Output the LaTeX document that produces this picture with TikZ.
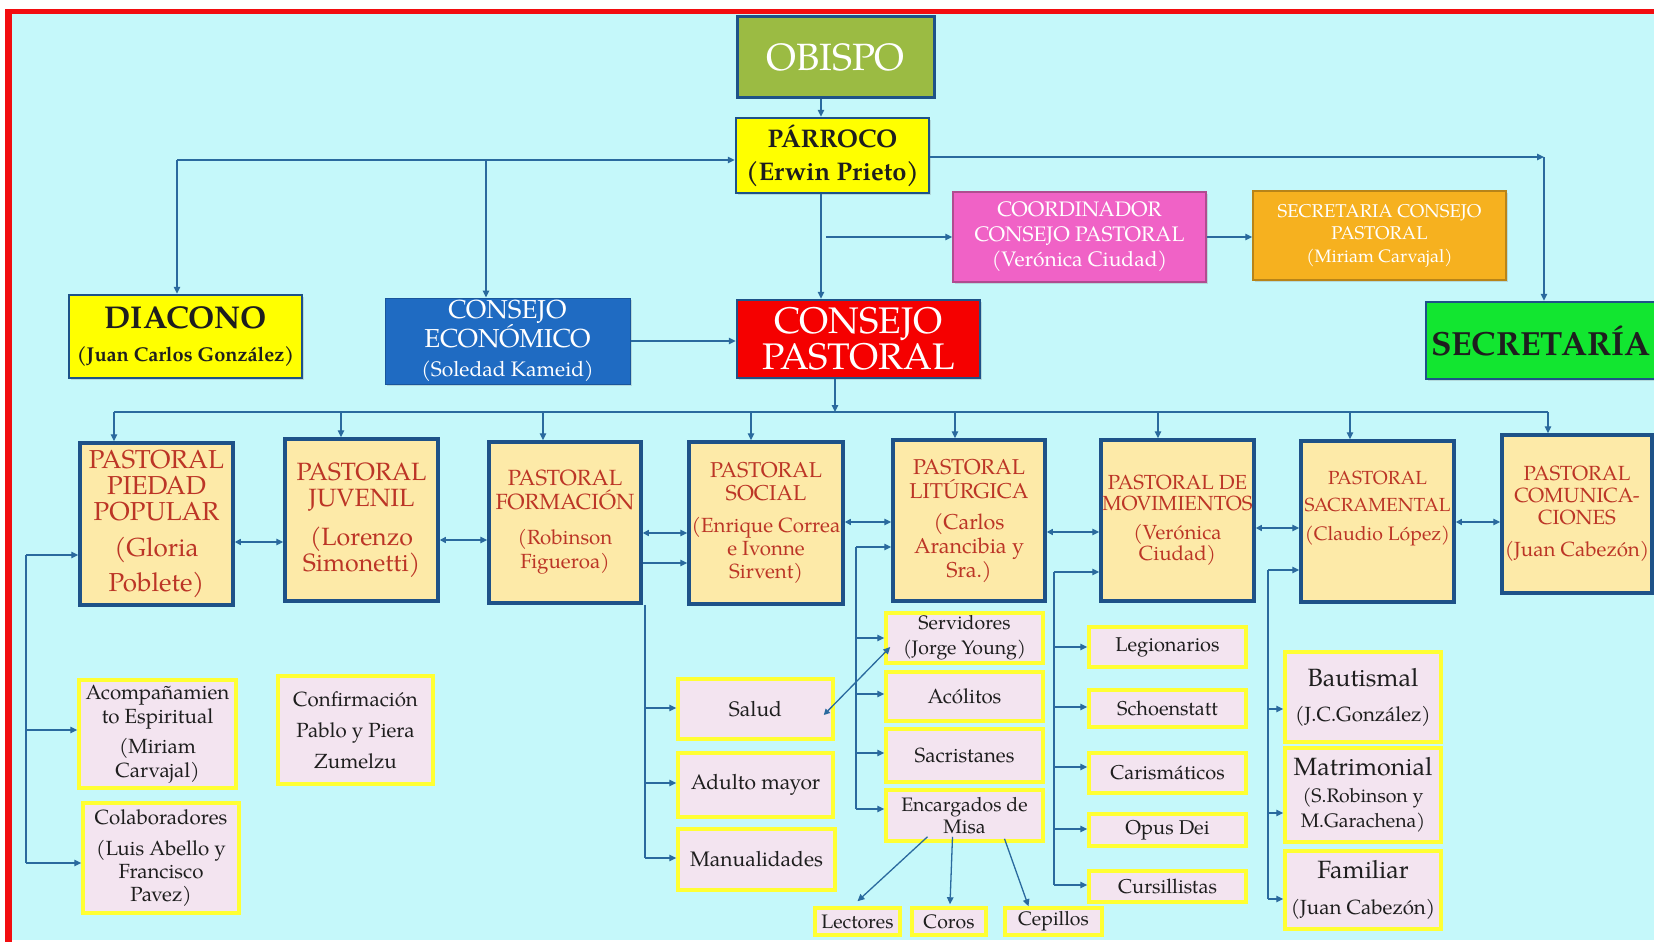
\documentclass[tikz,border=0pt]{standalone}
\usepackage{fontspec}
\setmainfont{texgyrepagella}[Extension=.otf,UprightFont=*-regular,BoldFont=*-bold,ItalicFont=*-italic,BoldItalicFont=*-bolditalic]
\usetikzlibrary{arrows.meta,shadows,calc}
\definecolor{bg}{HTML}{C5F8FA}
\definecolor{frame}{HTML}{F20D10}
\definecolor{lncol}{HTML}{2A6A9E}
\definecolor{boxblue}{HTML}{1E5288}
\definecolor{pasfill}{HTML}{FDEAA8}
\definecolor{pastext}{HTML}{BC3526}
\definecolor{subfill}{HTML}{F3E4F0}
\definecolor{subyel}{HTML}{FFFF33}
\definecolor{obfill}{HTML}{9BBB43}
\definecolor{yel}{HTML}{FFFF00}
\definecolor{pinkf}{HTML}{F062C6}
\definecolor{pinkb}{HTML}{B04C90}
\definecolor{orangef}{HTML}{F6B11F}
\definecolor{orangeb}{HTML}{B88418}
\definecolor{ceblue}{HTML}{1F6BC2}
\definecolor{cpred}{HTML}{F50000}
\definecolor{greenf}{HTML}{12E630}
\definecolor{subtext}{HTML}{1E1E1E}
\newcommand{\fs}[2]{\fontsize{#1}{#2}\selectfont}
\tikzset{
  topbox/.style={draw=boxblue, line width=2.5pt, rectangle, align=center, inner sep=0pt,
    drop shadow={opacity=0.25, shadow xshift=2pt, shadow yshift=-2pt}},
  pasbox/.style={draw=boxblue, fill=pasfill, line width=3.5pt, rectangle, align=center,
    inner sep=0pt, text=pastext},
  subbox/.style={draw=subyel, fill=subfill, line width=3.5pt, rectangle, align=center,
    inner sep=0pt, text=subtext,
    drop shadow={opacity=0.25, shadow xshift=2pt, shadow yshift=-2pt}},
  ln/.style={draw=lncol, line width=1.3pt},
  arr/.style={draw=lncol, line width=1.3pt, -{Triangle[length=7pt,width=6.5pt]}},
  darr/.style={draw=lncol, line width=1.3pt, {Triangle[length=6pt,width=6pt]}-{Triangle[length=7pt,width=6.5pt]}}
}
\begin{document}
\begin{tikzpicture}[x=1pt,y=-1pt]
\useasboundingbox (0,0) rectangle (1654,942);
\begin{scope}
\clip (0,0) rectangle (1654,942);
% background and frame
\fill[white] (0,0) rectangle (1654,942);
\fill[frame] (5,9) rectangle (12,942);
\fill[frame] (5,9) rectangle (1654,14);
\fill[bg] (12,14) rectangle (1654,940);

% top level
\node[topbox, fill=obfill, text=white, line width=3pt, minimum width=197pt, minimum height=80pt, font=\fs{38}{40}] (obispo) at (835.5,57) {OBISPO};
\node[topbox, fill=yel, text=subtext, minimum width=193pt, minimum height=75pt, font=\bfseries\fs{25.5}{33}] (parroco) at (832.5,155.5) {PÁRROCO\\(Erwin Prieto)};
\node[topbox, fill=pinkf, draw=pinkb, line width=1.5pt, text=white, minimum width=253pt, minimum height=90pt, font=\fs{21}{25}] (coord) at (1079.5,237) {COORDINADOR\\CONSEJO PASTORAL\\(Verónica Ciudad)};
\node[topbox, fill=orangef, draw=orangeb, line width=1.5pt, text=white, minimum width=253pt, minimum height=89pt, font=\fs{18.5}{22.5}] (seccons) at (1379.5,235.5) {SECRETARIA CONSEJO\\PASTORAL\\{\fs{18}{22.5}(Miriam Carvajal)}};
\node[topbox, fill=yel, text=subtext, minimum width=233pt, minimum height=83pt, font=\bfseries\fs{20}{33}] (diacono) at (185.5,336.5) {{\fs{31.5}{33}DIACONO}\\(Juan Carlos González)};
\node[topbox, fill=ceblue, draw=ceblue!80!black, line width=1pt, text=white, minimum width=245pt, minimum height=86pt, font=\fs{26}{29}] (ce) at (507.5,341) {CONSEJO\\ECONÓMICO\\{\fs{21}{29}(Soledad Kameid)}};
\node[topbox, fill=cpred, text=white, minimum width=243pt, minimum height=78pt, font=\fs{37}{36}] (cp) at (858.5,339) {CONSEJO\\PASTORAL};
\node[topbox, fill=greenf, text=subtext, minimum width=274pt, minimum height=77pt, text width=264pt, align=left, inner xsep=5pt, font=\bfseries\fs{33.5}{36}] (secr) at (1563,340.5) {SECRETARÍA};

% pastoral row
\node[pasbox, minimum width=153pt, minimum height=162pt, font=\fs{26}{26}] (p1) at (156.5,524) {PASTORAL\\PIEDAD\\POPULAR\\[10pt](Gloria\\[9pt]Poblete)};
\node[pasbox, minimum width=153pt, minimum height=162pt, font=\fs{25}{26}] (p2) at (361.5,520) {PASTORAL\\JUVENIL\\[13pt](Lorenzo\\Simonetti)};
\node[pasbox, minimum width=152pt, minimum height=161pt, font=\fs{22}{24}] (p3) at (565,522.5) {PASTORAL\\FORMACIÓN\\[11pt]{\fs{20.5}{23}(Robinson}\\{\fs{20.5}{23}Figueroa)}};
\node[pasbox, minimum width=154pt, minimum height=162pt, font=\fs{21.5}{23}] (p4) at (766,523) {PASTORAL\\SOCIAL\\[9pt]{\fs{20.5}{23}(Enrique Correa}\\{\fs{20.5}{23}e Ivonne}\\{\fs{20.5}{23}Sirvent)}};
\node[pasbox, minimum width=152pt, minimum height=161pt, font=\fs{21.5}{24}] (p5) at (969,520.5) {PASTORAL\\LITÚRGICA\\[7pt](Carlos\\Arancibia y\\Sra.)};
\node[pasbox, minimum width=153pt, minimum height=161pt, font=\fs{20.4}{21}] (p6) at (1177.5,520.5) {PASTORAL DE\\MOVIMIENTOS\\[8pt](Verónica\\Ciudad)};
\node[pasbox, minimum width=153pt, minimum height=161pt, font=\fs{19}{27}] (p7) at (1377.5,521.5) {PASTORAL\\SACRAMENTAL\\[2pt]{\fs{19.5}{27}(Claudio López)}\\[4pt]\mbox{}};
\node[pasbox, minimum width=150pt, minimum height=158pt, font=\fs{20.5}{22}] (p8) at (1577,514) {PASTORAL\\COMUNICA-\\CIONES\\[10pt](Juan Cabezón)};

% sub boxes
\node[subbox, minimum width=157pt, minimum height=108pt, font=\fs{20.5}{24}] (acomp) at (157.5,734) {Acompañamien\\to Espiritual\\[6pt](Miriam\\Carvajal)};
\node[subbox, minimum width=156pt, minimum height=110pt, font=\fs{20.5}{23}] (colab) at (161,858) {Colaboradores\\[8pt](Luis Abello y\\Francisco\\Pavez)};
\node[subbox, minimum width=155pt, minimum height=108pt, font=\fs{20.5}{31}] (confir) at (355.5,730) {Confirmación\\Pablo y Piera\\Zumelzu};
\node[subbox, minimum width=155pt, minimum height=60pt, font=\fs{21}{24}] (salud) at (755.5,709) {Salud};
\node[subbox, minimum width=155pt, minimum height=64pt, font=\fs{21}{24}] (adulto) at (755.5,785) {Adulto mayor};
\node[subbox, minimum width=157pt, minimum height=61pt, font=\fs{21}{24}] (manual) at (756.5,859.5) {Manualidades};
\node[subbox, minimum width=157pt, minimum height=50pt, font=\fs{19.5}{25}] (serv) at (964.5,638) {Servidores\\(Jorge Young)};
\node[subbox, minimum width=157pt, minimum height=49pt, font=\fs{20.5}{24}] (acol) at (964.5,696.5) {Acólitos};
\node[subbox, minimum width=157pt, minimum height=53pt, font=\fs{20.5}{24}] (sacr) at (964.5,755.5) {Sacristanes};
\node[subbox, minimum width=157pt, minimum height=51pt, font=\fs{19.5}{22}] (enc) at (964.5,815.5) {Encargados de\\Misa};
\node[subbox, minimum width=85pt, minimum height=27pt, font=\fs{19.5}{22}] (lect) at (857.5,921.5) {Lectores};
\node[subbox, minimum width=74pt, minimum height=27pt, font=\fs{19.5}{22}] (coros) at (949,921.5) {Coros};
\node[subbox, minimum width=97pt, minimum height=27pt, font=\fs{19.5}{22}] (cepi) at (1053.5,921.5) {Cepillos};
\node[subbox, minimum width=157pt, minimum height=40pt, font=\fs{20}{22}] (legion) at (1167.5,647) {Legionarios};
\node[subbox, minimum width=157pt, minimum height=37pt, font=\fs{20}{22}] (schoen) at (1167.5,708.5) {Schoenstatt};
\node[subbox, minimum width=157pt, minimum height=40pt, font=\fs{20}{22}] (caris) at (1167.5,773) {Carismáticos};
\node[subbox, minimum width=157pt, minimum height=32pt, font=\fs{20}{22}] (opus) at (1167.5,830) {Opus Dei};
\node[subbox, minimum width=157pt, minimum height=31pt, font=\fs{20}{22}] (cursi) at (1167.5,886.5) {Cursillistas};
\node[subbox, minimum width=156pt, minimum height=90pt, font=\fs{20.5}{35}] (baut) at (1363,697) {{\fs{25}{35}Bautismal}\\(J.C.González)};
\node[subbox, minimum width=156pt, minimum height=94pt, font=\fs{19.5}{25}] (matri) at (1363,795) {{\fs{25}{25}Matrimonial}\\[2pt](S.Robinson y\\M.Garachena)};
\node[subbox, minimum width=156pt, minimum height=78pt, font=\fs{20.5}{36}] (famil) at (1363,890) {{\fs{25}{36}Familiar}\\(Juan Cabezón)};

% top connectors
\coordinate (vx) at (821,0);
\draw[arr] (obispo.south -| vx) -- (parroco.north -| vx);
\draw[arr] (parroco.south -| vx) -- (cp.north -| vx);
\coordinate (lc) at (177,160);
\coordinate (mc) at (486,160);
\draw[arr] (lc) -- (lc -| parroco.west);
\draw[arr] (lc) -- (lc |- diacono.north);
\draw[arr] (mc) -- (mc |- ce.north);
\coordinate (rc) at (1544,157);
\draw[arr] (rc -| parroco.east) -- (rc);
\draw[arr] (rc) -- (rc |- secr.north);
\coordinate (cc) at (826,237);
\draw[arr] (cc) -- (cc -| coord.west);
\draw[arr] (coord.east) -- (coord.east -| seccons.west);
\draw[arr] (ce.east) -- (ce.east -| cp.west);

% bus
\coordinate (bus) at (835,412);
\draw[arr] (cp.south -| bus) -- (bus);
\draw[ln] (114,412) -- (1548,412);
\foreach \n/\x in {p1/114,p2/341,p3/543,p4/751,p5/955,p6/1158,p7/1350,p8/1548}
  \draw[arr] (\x,412) -- (\x,412 |- \n.north);

% pastoral row links
\draw[darr] (0,542 -| p1.east) -- (0,542 -| p2.west);
\draw[darr] (0,540 -| p2.east) -- (0,540 -| p3.west);
\draw[darr] (0,533 -| p3.east) -- (0,533 -| p4.west);
\draw[arr] (0,563 -| p3.east) -- (0,563 -| p4.west);
\draw[darr] (0,522 -| p4.east) -- (0,522 -| p5.west);
\draw[darr] (0,532 -| p5.east) -- (0,532 -| p6.west);
\draw[darr] (0,528 -| p6.east) -- (0,528 -| p7.west);
\draw[darr] (0,522 -| p7.east) -- (0,522 -| p8.west);

% left column
\draw[ln] (26,555) -- (26,863);
\draw[arr] (26,555) -- (26,555 -| p1.west);
\draw[arr] (26,730) -- (26,730 -| acomp.west);
\draw[arr] (26,863) -- (26,863 -| colab.west);

% formacion column
\draw[ln] (p3.south -| 645,0) -- (645,858);
\foreach \n/\y in {salud/708,adulto/783,manual/858}
  \draw[arr] (645,\y) -- (645,\y -| \n.west);

% liturgica column
\draw[ln] (856,547) -- (856,809);
\draw[arr] (856,547) -- (856,547 -| p5.west);
\foreach \n/\y in {serv/638,acol/694,sacr/753,enc/809}
  \draw[arr] (856,\y) -- (856,\y -| \n.west);
\draw[darr] ([xshift=-11pt,yshift=-6pt]salud.east) -- ([xshift=6pt,yshift=-9pt]serv.west);
\draw[arr] ([xshift=-37pt,yshift=6pt]enc.south) -- ([yshift=5pt]lect.north);
\draw[arr] ([xshift=-12pt,yshift=6pt]enc.south) -- ([xshift=1pt,yshift=2pt]coros.north);
\draw[arr] ([xshift=40pt,yshift=4pt]enc.south) -- ([xshift=-25pt]cepi.north);

% movimientos column
\draw[ln] (1054,572) -- (1054,885);
\draw[arr] (1054,572) -- (1054,572 -| p6.west);
\foreach \n/\y in {legion/647,schoen/707,caris/767,opus/829,cursi/885}
  \draw[arr] (1054,\y) -- (1054,\y -| \n.west);

% sacramental column
\draw[ln] (1268,570) -- (1268,899);
\draw[arr] (1268,570) -- (1268,570 -| p7.west);
\foreach \n/\y in {baut/709,matri/813,famil/899}
  \draw[arr] (1268,\y) -- (1268,\y -| \n.west);
\end{scope}
\end{tikzpicture}
\end{document}
